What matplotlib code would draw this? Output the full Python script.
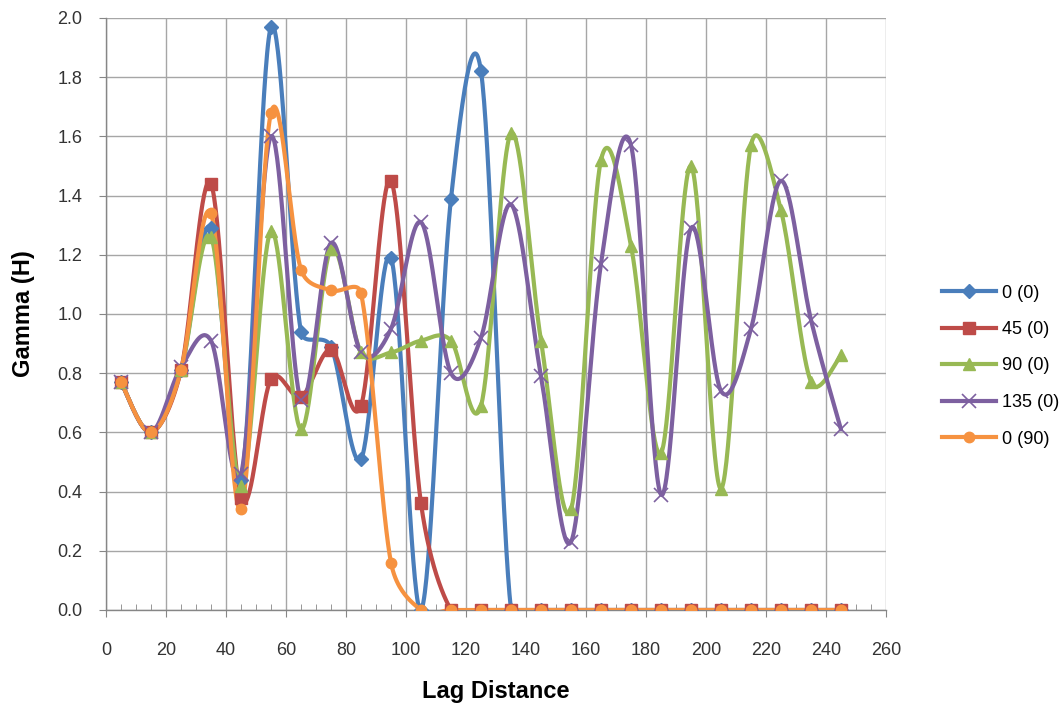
import numpy as np
import matplotlib
matplotlib.use("Agg")
import matplotlib.pyplot as plt
from matplotlib.lines import Line2D

plt.rcParams["font.family"] = ["Liberation Sans", "DejaVu Sans"]

lag = [5, 15, 25, 35, 45, 55, 65, 75, 85, 95, 105, 115, 125, 135, 145,
       155, 165, 175, 185, 195, 205, 215, 225, 235, 245]

s0_0 = [0.77, 0.60, 0.81, 1.29, 0.44, 1.97, 0.94, 0.89, 0.51, 1.19, 0.00, 1.39, 1.82, 0.00, 0.00,
        0.00, 0.00, 0.00, 0.00, 0.00, 0.00, 0.00, 0.00, 0.00, 0.00]
s45_0 = [0.77, 0.60, 0.81, 1.44, 0.38, 0.78, 0.72, 0.88, 0.69, 1.45, 0.36, 0.00, 0.00, 0.00, 0.00,
         0.00, 0.00, 0.00, 0.00, 0.00, 0.00, 0.00, 0.00, 0.00, 0.00]
s90_0 = [0.77, 0.60, 0.81, 1.26, 0.42, 1.28, 0.61, 1.22, 0.87, 0.87, 0.91, 0.91, 0.69, 1.61, 0.91,
         0.34, 1.52, 1.23, 0.53, 1.50, 0.41, 1.57, 1.35, 0.77, 0.86]
s135_0 = [0.77, 0.60, 0.82, 0.91, 0.46, 1.60, 0.71, 1.24, 0.87, 0.95, 1.31, 0.80, 0.92, 1.37, 0.79,
          0.23, 1.17, 1.57, 0.39, 1.29, 0.74, 0.95, 1.45, 0.98, 0.61]
s0_90 = [0.77, 0.60, 0.81, 1.34, 0.34, 1.68, 1.15, 1.08, 1.07, 0.16, 0.00, 0.00, 0.00, 0.00, 0.00,
         0.00, 0.00, 0.00, 0.00, 0.00, 0.00, 0.00, 0.00, 0.00, 0.00]

labels = ["0 (0)", "45 (0)", "90 (0)", "135 (0)", "0 (90)"]
series = [s0_0, s45_0, s90_0, s135_0, s0_90]
colors = ["#4A7EBB", "#BE4B48", "#98B954", "#7D60A0", "#F69240"]
markers = ["D", "s", "^", "x", "o"]
msizes = [7.5, 8, 8.5, 10, 7.5]
LW = 3.0


def smooth(ax, x, y, n=40):
    """Excel-style smoothed line: Catmull-Rom Bezier with control arms capped at half the segment."""
    P = ax.transData.transform(np.column_stack([x, y]).astype(float))
    Pext = np.vstack([P[0], P, P[-1]])
    out = []
    t = np.linspace(0, 1, n)[:, None]
    for i in range(len(P) - 1):
        p0, p1, p2, p3 = Pext[i], Pext[i + 1], Pext[i + 2], Pext[i + 3]
        d12 = np.hypot(*(p2 - p1))
        d02 = np.hypot(*(p2 - p0))
        d13 = np.hypot(*(p3 - p1))
        f = 1 / 6.0
        g = 1 / 6.0
        if d02 > 0 and d02 / 6.0 > d12 / 2.0:
            f = d12 / (2.0 * d02)
        if d13 > 0 and d13 / 6.0 > d12 / 2.0:
            g = d12 / (2.0 * d13)
        c1 = p1 + (p2 - p0) * f
        c2 = p2 - (p3 - p1) * g
        seg = ((1 - t) ** 3) * p1 + 3 * ((1 - t) ** 2) * t * c1 + 3 * (1 - t) * t ** 2 * c2 + t ** 3 * p2
        out.append(seg if i == 0 else seg[1:])
    out = np.vstack(out)
    D = ax.transData.inverted().transform(out)
    return D[:, 0], D[:, 1]


fig = plt.figure(figsize=(10.64, 7.09), dpi=100)
ax = fig.add_axes([106 / 1064, 1 - 610 / 709, 780 / 1064, 592 / 709])
ax.set_xlim(0, 260)
ax.set_ylim(0, 2.0)

for ys, c, m, ms, lab in zip(series, colors, markers, msizes, labels):
    sx, sy = smooth(ax, lag, ys)
    ax.plot(sx, sy, color=c, lw=LW, solid_capstyle="round", solid_joinstyle="round", zorder=3)
    if m == "x":
        ax.plot(lag, ys, ls="none", marker=m, ms=ms, mec=c, mew=1.2, zorder=4)
    else:
        ax.plot(lag, ys, ls="none", marker=m, ms=ms, mfc=c, mec=c, zorder=4)

ax.set_xlim(0, 260)
ax.set_ylim(0, 2.0)
ax.set_xticks(np.arange(0, 261, 20))
ax.set_yticks(np.arange(0, 2.01, 0.2))
ax.set_yticklabels([f"{v:.1f}" for v in np.arange(0, 2.01, 0.2)])
ax.set_xticks(np.arange(0, 261, 5), minor=True)
ax.grid(True, which="major", color="#A6A6A6", lw=1.0)
ax.set_axisbelow(True)
for s in ["top", "right"]:
    ax.spines[s].set_visible(False)
for s in ["left", "bottom"]:
    ax.spines[s].set_color("#868686")
    ax.spines[s].set_linewidth(1.0)
ax.tick_params(axis="both", which="major", labelsize=13, colors="#868686", labelcolor="#333333", length=5)
ax.tick_params(axis="x", which="minor", direction="in", length=4, colors="#868686")
ax.tick_params(axis="x", which="major", pad=18)
ax.tick_params(axis="y", which="major", pad=12)

ax.set_xlabel("Lag Distance", fontsize=17, fontweight="bold", labelpad=15)
ax.set_ylabel("Gamma (H)", fontsize=17, fontweight="bold", labelpad=16)

handles = []
for c, m, ms in zip(colors, markers, msizes):
    if m == "x":
        h = Line2D([0], [0], color=c, lw=LW, marker=m, ms=ms, mec=c, mew=1.2)
    else:
        h = Line2D([0], [0], color=c, lw=LW, marker=m, ms=ms, mfc=c, mec=c)
    handles.append(h)
fig.legend(handles, labels, loc="center left", bbox_to_anchor=(926 / 1064, 1 - 366 / 709),
           frameon=False, fontsize=13, handlelength=3.0, labelspacing=1.08, handletextpad=0.3)

fig.savefig("out.png", dpi=100)
